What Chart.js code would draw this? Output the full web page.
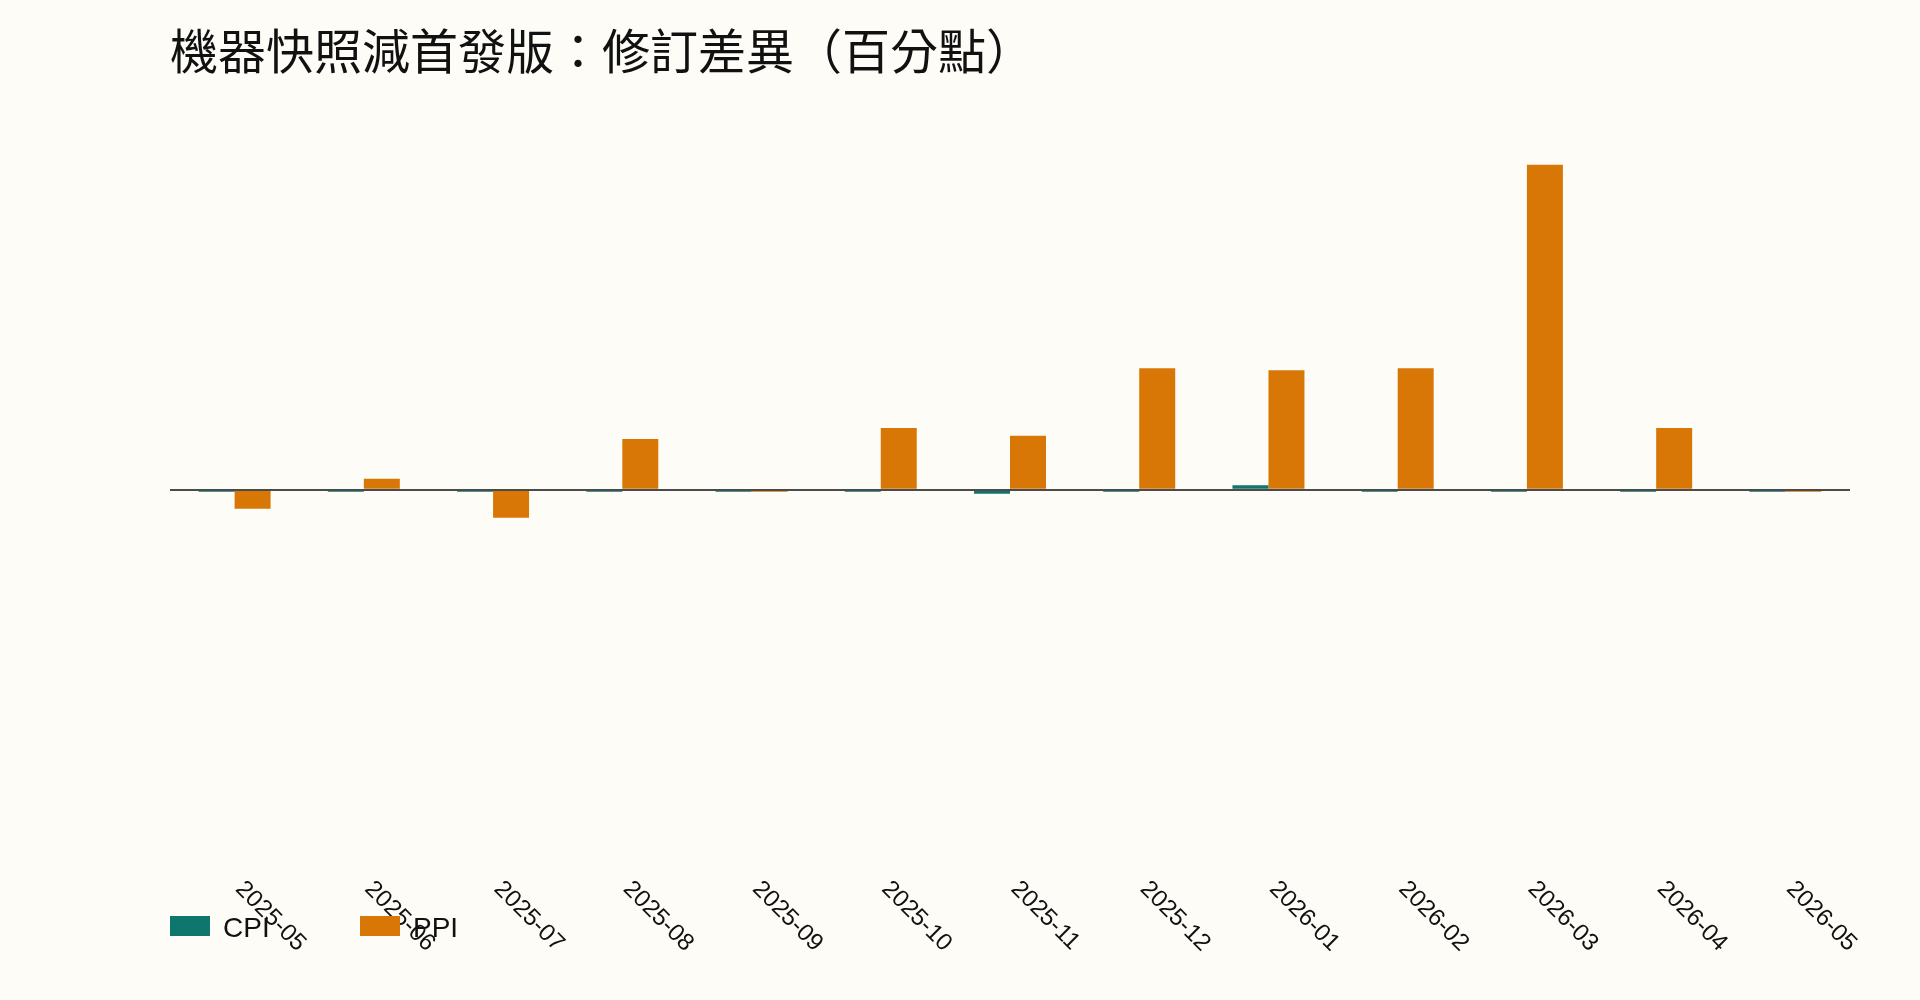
<!DOCTYPE html>
<html>
<head>
<meta charset="utf-8">
<script src="https://cdn.jsdelivr.net/npm/chart.js@4.4.1/dist/chart.umd.min.js"></script>
<style>
  html, body { margin: 0; padding: 0; background: #fdfcf7; }
  #wrap { width: 1920px; height: 1000px; position: relative; }
</style>
</head>
<body>
<div id="wrap"><canvas id="revChart"></canvas></div>
<script>
// Revision difference, machine snapshot minus first release (percentage points)
const months = ["2025-05","2025-06","2025-07","2025-08","2025-09","2025-10","2025-11",
                "2025-12","2026-01","2026-02","2026-03","2026-04","2026-05"];
const cpiDiff = [-0.003, -0.003, -0.003, -0.003, -0.003, -0.003, -0.006,
                 -0.003, 0.007, -0.003, -0.003, -0.003, -0.003];
const ppiDiff = [-0.029, 0.017, -0.043, 0.078, -0.003, 0.095, 0.083,
                 0.187, 0.184, 0.187, 0.5, 0.095, -0.003];
const seriesNames = ["CPI", "PPI"];
const seriesColors = ["#0f766e", "#d97706"];

const baseFamily = "'Helvetica Neue', Helvetica, Arial, sans-serif";
const tickFont = "24px " + baseFamily;
const legendFont = "28px " + baseFamily;

// rotated month labels (reading downwards) and the legend under the axis
const extras = {
    id: 'extras',
    afterDraw(chart) {
        const ctx = chart.ctx;
        const xs = chart.scales.x;
        const area = chart.chartArea;
        ctx.save();
        ctx.fillStyle = '#111';
        ctx.font = tickFont;
        ctx.textAlign = 'left';
        ctx.textBaseline = 'alphabetic';
        months.forEach((m, i) => {
            const x = xs.getPixelForValue(i);
            ctx.save();
            ctx.translate(x, area.bottom + 10);
            ctx.rotate(Math.PI / 4);
            ctx.fillText(m, 0, 0);
            ctx.restore();
        });

        // legend
        ctx.font = legendFont;
        ctx.textBaseline = 'middle';
        chart.data.datasets.forEach((ds, i) => {
            const bx = area.left + i * 190;
            const by = 916;
            ctx.fillStyle = ds.backgroundColor;
            ctx.fillRect(bx, by, 40, 20);
            ctx.fillStyle = '#111';
            ctx.fillText(ds.label, bx + 53, by + 13);
        });
        ctx.restore();
    }
};

const cvs = document.getElementById('revChart');
new Chart(cvs, {
    type: 'bar',
    data: {
        labels: months,
        datasets: [
            { label: seriesNames[0], data: cpiDiff, backgroundColor: seriesColors[0] },
            { label: seriesNames[1], data: ppiDiff, backgroundColor: seriesColors[1] }
        ]
    },
    options: {
        responsive: true,
        maintainAspectRatio: false,
        animation: false,
        devicePixelRatio: 1,
        layout: { padding: { left: 170, right: 70, top: 0, bottom: 120 } },
        datasets: {
            bar: { categoryPercentage: 0.557, barPercentage: 1.0, borderWidth: 0 }
        },
        plugins: {
            legend: { display: false },
            tooltip: { enabled: false },
            title: {
                display: true,
                text: '機器快照減首發版：修訂差異（百分點）',
                align: 'start',
                color: '#111',
                font: { family: "'Noto Sans CJK TC', 'Noto Sans CJK SC', sans-serif", size: 48, weight: 'normal' },
                padding: { top: 22, bottom: 20 }
            }
        },
        scales: {
            x: { display: false },
            y: {
                display: true,
                min: -0.6,
                max: 0.6,
                ticks: { display: false, stepSize: 0.6 },
                border: { display: false },
                grid: {
                    z: 1,
                    drawTicks: false,
                    lineWidth: 2,
                    color: (c) => (c.tick && Math.abs(c.tick.value) < 1e-9) ? '#4b4b4b' : 'rgba(0,0,0,0)'
                }
            }
        }
    },
    plugins: [extras]
});
</script>
</body>
</html>
